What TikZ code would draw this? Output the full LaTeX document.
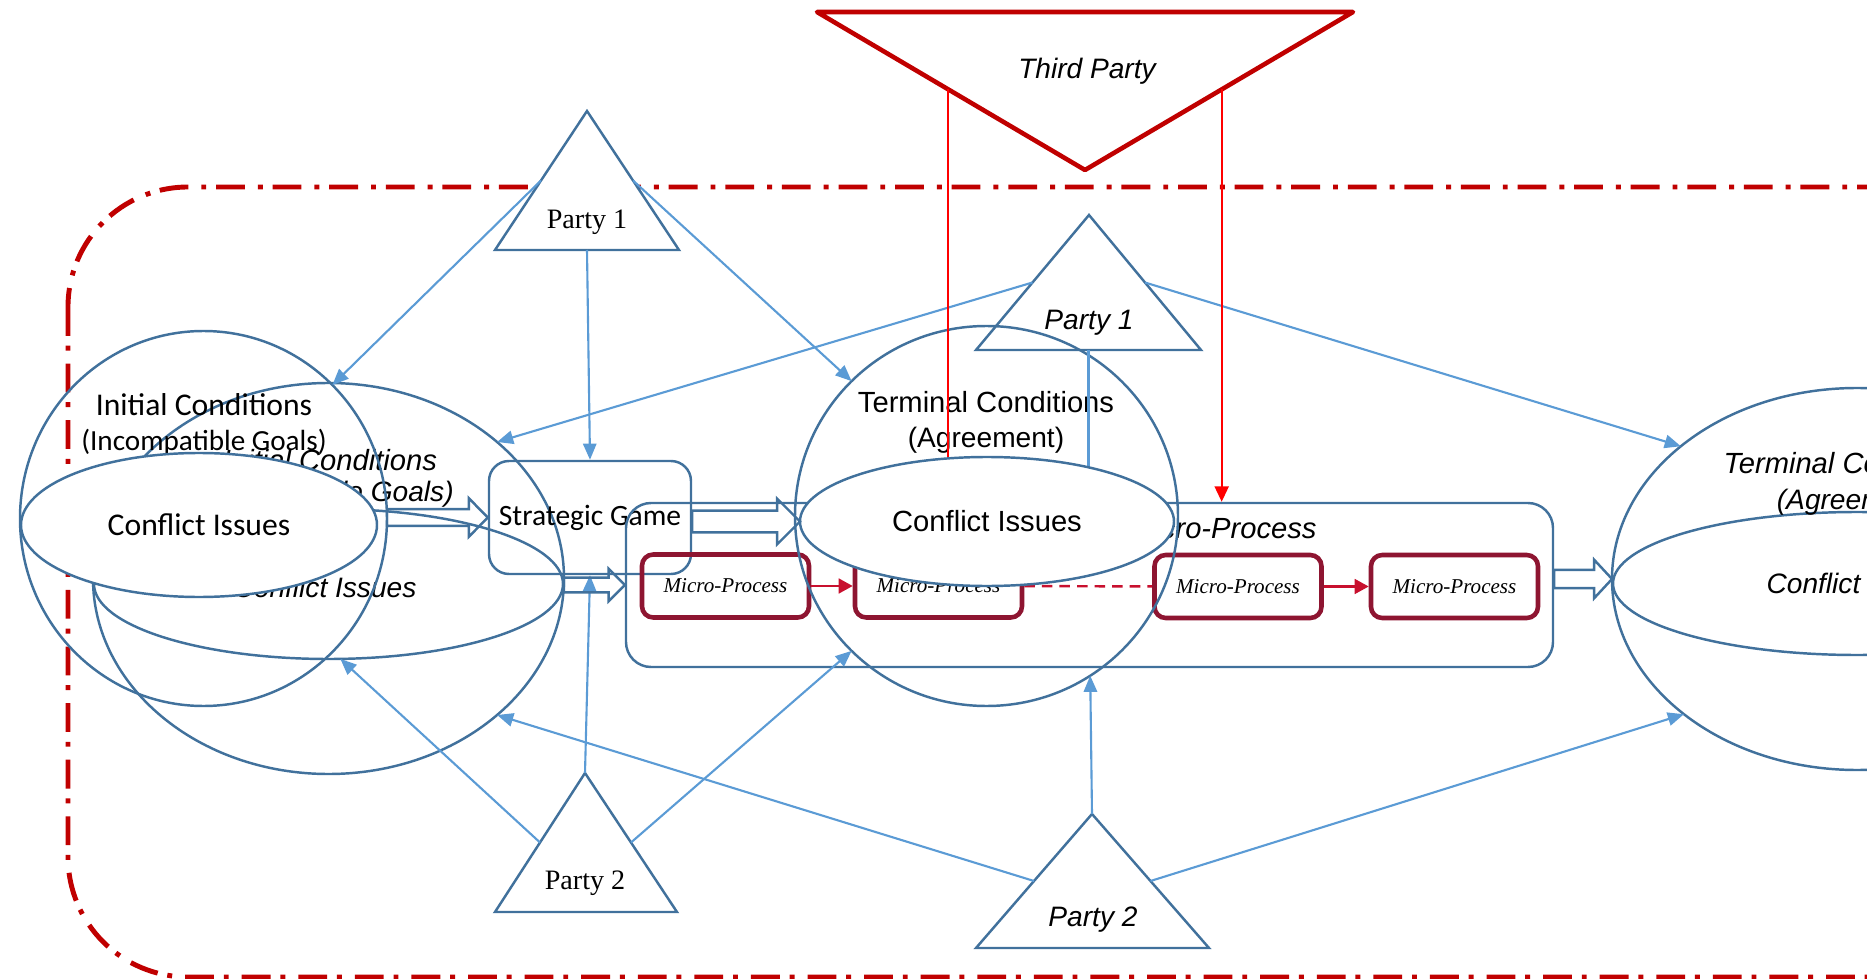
\documentclass[tikz,border=0pt]{standalone}
\usepackage{fontspec}
\setmainfont{Liberation Serif}
\newfontfamily\arialfont{Liberation Sans}
\newfontfamily\calibrifont{Carlito}
\usepackage{xcolor}
\usetikzlibrary{arrows.meta,calc,shapes.geometric}

\definecolor{shapeblue}{HTML}{41719C}
\definecolor{linkblue}{HTML}{5B9BD5}
\definecolor{borderred}{HTML}{C00000}
\definecolor{mpred}{HTML}{8E1531}
\definecolor{mparrow}{HTML}{C8102E}

% hollow block arrow: tail, tip, half shaft, half head, head length
\newcommand{\fatarrow}[5]{%
  \draw[fatarr] let \p1=(#1), \p2=(#2) in
    (\x1,\y2+#3) -- (\x2-#5,\y2+#3) -- (\x2-#5,\y2+#4) -- (\x2,\y2)
    -- (\x2-#5,\y2-#4) -- (\x2-#5,\y2-#3) -- (\x1,\y2-#3) -- cycle;}

\begin{document}
\begin{tikzpicture}[
  blueline/.style={draw=shapeblue,line width=0.7pt},
  oval/.style={blueline,ellipse,inner sep=0pt,outer sep=0pt},
  partytri/.style={blueline,fill=white,line join=miter},
  partylink/.style={draw=linkblue,line width=0.6pt,-{Triangle[length=4.6pt,width=3.8pt]}},
  tplink/.style={draw=red,line width=0.6pt,-{Triangle[length=4.4pt,width=4pt]}},
  mpbox/.style={draw=mpred,line width=1.3pt,rounded corners=3.2pt,minimum width=1.67cm,minimum height=0.63cm,inner sep=0pt,font=\fontsize{6}{7}\selectfont\itshape},
  mplink/.style={draw=mparrow,line width=0.7pt,-{Triangle[length=4pt,width=4.2pt]}},
  fatarr/.style={blueline,line join=miter},
  caltext/.style={font=\calibrifont\fontsize{9}{10}\selectfont},
  caltextsm/.style={font=\calibrifont\fontsize{8.3}{9}\selectfont},
  artext/.style={font=\arialfont\fontsize{8}{9}\selectfont},
  aritext/.style={font=\arialfont\itshape\fontsize{8}{9}\selectfont},
  sertext/.style={font=\fontsize{8}{9}\selectfont}
]
\useasboundingbox (0,0) rectangle (18.67,-9.79);
\clip (0,0) rectangle (18.67,-9.79);

% outer boundary
\draw[borderred,line width=1.4pt,dash pattern=on 8.2pt off 2.8pt on 1.4pt off 3.7pt,rounded corners=1.2cm] (0.68,-1.87) rectangle (20.5,-9.77);

% parties
\coordinate (tp-l) at (8.17,-0.12);
\coordinate (tp-r) at (13.53,-0.12);
\coordinate (tp-a) at (10.85,-1.70);
\draw[draw=borderred,fill=white,line width=1.3pt,line join=round] (tp-l) -- (tp-r) -- (tp-a) -- cycle;
\node[aritext] (tptext) at (10.87,-0.71) {Third Party};

\coordinate (p1l-a) at (5.87,-1.11);
\coordinate (p1l-l) at (4.95,-2.50);
\coordinate (p1l-r) at (6.79,-2.50);
\draw[partytri] (p1l-a) -- (p1l-l) -- (p1l-r) -- cycle;
\node[sertext] (p1ltext) at (5.87,-2.22) {Party 1};

\coordinate (p1c-a) at (10.89,-2.15);
\coordinate (p1c-l) at (9.76,-3.50);
\coordinate (p1c-r) at (12.01,-3.50);
\draw[partytri] (p1c-a) -- (p1c-l) -- (p1c-r) -- cycle;
\node[aritext] (p1ctext) at (10.89,-3.23) {Party 1};

\coordinate (p2l-a) at (5.85,-7.73);
\coordinate (p2l-l) at (4.95,-9.12);
\coordinate (p2l-r) at (6.77,-9.12);
\draw[partytri] (p2l-a) -- (p2l-l) -- (p2l-r) -- cycle;
\node[sertext] (p2ltext) at (5.85,-8.83) {Party 2};

\coordinate (p2c-a) at (10.92,-8.14);
\coordinate (p2c-l) at (9.76,-9.48);
\coordinate (p2c-r) at (12.09,-9.48);
\draw[partytri] (p2c-a) -- (p2c-l) -- (p2c-r) -- cycle;
\node[aritext] (p2ctext) at (10.93,-9.20) {Party 2};

% initial conditions (back copy)
\node[oval,minimum width=4.71cm,minimum height=3.91cm] (circB) at (3.285,-5.785) {};
\node[oval,minimum width=4.69cm,minimum height=1.50cm] (ellB) at (3.285,-5.84) {};
\node[aritext,font=\arialfont\itshape\fontsize{8.3}{9}\selectfont] (initB) at (3.30,-4.60) {Initial Conditions};
\node[aritext] (goalsB) at (3.24,-4.94) {(Incompatible Goals)};
\node[aritext] (issB) at (3.25,-5.87) {Conflict Issues};

% initial conditions (front)
\node[oval,minimum width=3.67cm,minimum height=3.75cm] (circA) at (2.035,-5.185) {};
\node[caltext] (initA) at (2.04,-4.05) {Initial Conditions};
\node[caltextsm] (goalsA) at (2.04,-4.42) {(Incompatible Goals)};
\node[oval,fill=white,caltext,minimum width=3.56cm,minimum height=1.44cm] (ellA) at (1.99,-5.25) {Conflict Issues};

% strategic game and process boxes
\node[blueline,rounded corners=0.2cm,minimum width=2.02cm,minimum height=1.13cm,inner sep=1pt,font=\calibrifont\fontsize{8.4}{9}\selectfont] (sg) at (5.90,-5.175) {Strategic Game};
\node[blueline,rounded corners=0.25cm,minimum width=9.27cm,minimum height=1.64cm] (macro) at (10.895,-5.85) {};
\node[aritext,font=\arialfont\itshape\fontsize{8.3}{9}\selectfont,anchor=east] (macrotext) at (13.29,-5.29) {Macro-Process};

\node[mpbox] (mp1) at (7.255,-5.86) {Micro-Process};
\node[mpbox] (mp2) at (9.385,-5.86) {Micro-Process};
\node[mpbox] (mp3) at (12.38,-5.865) {Micro-Process};
\node[mpbox] (mp4) at (14.545,-5.865) {Micro-Process};
\draw[mplink] (mp1) -- (mp2);
\draw[mparrow,line width=0.7pt,dash pattern=on 3pt off 2pt] (mp2) -- (mp3);
\draw[mplink] (mp3) -- (mp4);

% terminal conditions (middle)
\node[oval,minimum width=3.83cm,minimum height=3.80cm] (circT) at (9.865,-5.16) {};
\node[artext,font=\arialfont\fontsize{8.3}{9}\selectfont] (termT) at (9.86,-4.02) {Terminal Conditions};
\node[artext] (agreeT) at (9.86,-4.40) {(Agreement)};

% terminal conditions (right copy)
\node[oval,minimum width=4.90cm,minimum height=3.82cm] (circR) at (18.57,-5.79) {};
\node[oval,minimum width=4.88cm,minimum height=1.43cm] (ellR) at (18.57,-5.835) {};
\node[aritext,font=\arialfont\itshape\fontsize{8.3}{9}\selectfont] (termR) at (18.52,-4.63) {Terminal Conditions};
\node[aritext] (agreeR) at (18.55,-5.02) {(Agreement)};
\node[aritext] (issR) at (18.58,-5.83) {Conflict Issues};

% party links
\draw[partylink] ($(p1l-a)!0.5!(p1l-l)$) -- (circA.46);
\draw[partylink] ($(p1l-l)!0.5!(p1l-r)$) -- (sg.north);
\draw[partylink] ($(p1l-a)!0.5!(p1l-r)$) -- (circT.135);
\draw[partylink] ($(p1c-a)!0.5!(p1c-l)$) -- (circB.39);
\draw[partylink] ($(p1c-a)!0.5!(p1c-r)$) -- (circR.143);
\coordinate (p1c-b) at ($(p1c-l)!0.5!(p1c-r)$);
\draw[partylink] (p1c-b) -- (p1c-b |- macro.north);
\draw[partylink] (p2l-a) -- (sg.south);
\draw[partylink] ($(p2l-a)!0.5!(p2l-l)$) -- (ellB.-81);
\draw[partylink] ($(p2l-a)!0.5!(p2l-r)$) -- (circT.-135);
\draw[partylink] (p2c-a) -- (circT.-57);
\draw[partylink] ($(p2c-a)!0.5!(p2c-l)$) -- (circB.-39);
\draw[partylink] ($(p2c-a)!0.5!(p2c-r)$) -- (circR.-142);

% third party links
\coordinate (tp-b1) at ($(tp-l)!0.49!(tp-a)$);
\coordinate (tp-b2) at ($(tp-r)!0.49!(tp-a)$);
\draw[tplink] (tp-b1) -- (tp-b1 |- macro.north);
\draw[tplink] (tp-b2) -- (tp-b2 |- macro.north);

\node[oval,fill=white,artext,font=\arialfont\fontsize{8.3}{9}\selectfont,minimum width=3.74cm,minimum height=1.29cm] (ellT) at (9.87,-5.215) {Conflict Issues};

% block arrows
\fatarrow{circA.east}{sg.west}{2.4pt}{5.5pt}{5.4pt}
\fatarrow{circB.east}{macro.west}{2.1pt}{4.6pt}{4.6pt}
\fatarrow{sg.east}{ellT.west}{3.1pt}{6.5pt}{6.5pt}
\fatarrow{macro.east}{circR.west}{2.6pt}{5.5pt}{5.1pt}

\end{tikzpicture}
\end{document}
